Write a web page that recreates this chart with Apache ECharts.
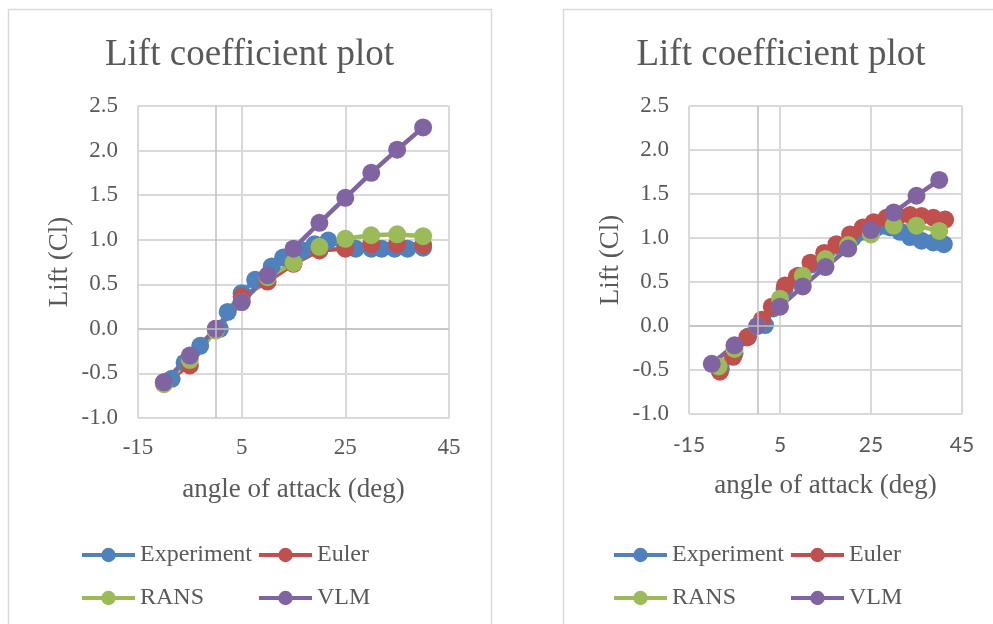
<!DOCTYPE html>
<html>
<head>
<meta charset="utf-8">
<title>Lift coefficient plot</title>
<script src="https://cdn.jsdelivr.net/npm/echarts@6/dist/echarts.min.js"></script>
<style>
  html, body { margin: 0; padding: 0; background: #fff; }
  #main { width: 993px; height: 624px; }
</style>
</head>
<body>
<div id="main"></div>
<script>
// 左图数据 (图A)
const aoaA = [-10, -5, 0, 5, 10, 15, 20, 25, 30, 35, 40];
const eulerA = [-0.60, -0.41, 0.00, 0.36, 0.53, 0.73, 0.88, 0.90, 0.95, 0.95, 0.94];
const ransA = [-0.62, -0.35, -0.02, 0.30, 0.58, 0.74, 0.92, 1.01, 1.05, 1.06, 1.04];
const vlmA = [-0.60, -0.30, 0.00, 0.30, 0.60, 0.90, 1.19, 1.47, 1.75, 2.01, 2.26];
const expAx = [-8.5, -6, -3, 0.8, 2.3, 5, 7.6, 10.8, 13, 16.8, 19.1, 21.7, 25, 27, 30, 32, 34.5, 37, 40];
const expAy = [-0.56, -0.38, -0.19, 0.00, 0.19, 0.40, 0.55, 0.70, 0.80, 0.88, 0.95, 0.99, 0.91, 0.90, 0.90, 0.90, 0.90, 0.90, 0.91];

// 右图数据 (图B)
const vlmBx = [-10, -5, 0, 5, 10, 15, 20, 25, 30, 35, 40];
const vlmBy = [-0.43, -0.22, 0.00, 0.22, 0.45, 0.67, 0.88, 1.09, 1.29, 1.48, 1.66];
const ransBx = [-8.5, -5, 0, 5, 10, 15, 20, 25, 30, 35, 40];
const ransBy = [-0.46, -0.26, 0.00, 0.31, 0.57, 0.76, 0.92, 1.04, 1.14, 1.14, 1.08];
const eulerBx = [-8.2, -5.3, -2.2, 1.0, 3.2, 6.1, 8.7, 11.7, 14.7, 17.4, 20.4, 23.2, 25.6, 28.4, 31, 33.6, 36.1, 38.7, 41.3];
const eulerBy = [-0.52, -0.35, -0.13, 0.07, 0.22, 0.46, 0.56, 0.72, 0.83, 0.93, 1.04, 1.12, 1.18, 1.23, 1.25, 1.26, 1.25, 1.23, 1.21];
const expBx = [-8, -5, -2, 1.7, 3.5, 6, 9, 12, 15, 18, 21, 24, 26, 28, 29.3, 31.4, 33.6, 36.1, 38.7, 41];
const expBy = [-0.49, -0.31, -0.12, 0.01, 0.20, 0.42, 0.57, 0.70, 0.82, 0.91, 1.00, 1.07, 1.11, 1.14, 1.12, 1.07, 1.01, 0.97, 0.95, 0.93];

// 坐标轴刻度
const xMin = -15, xMax = 45, xStep = 20;
const yMin = -1.0, yMax = 2.5, yStep = 0.5;
const names = ['Experiment', 'Euler', 'RANS', 'VLM'];
const colors = ['#4f81bd', '#c0504d', '#9bbb59', '#8064a2'];

const serif = "'Liberation Serif', 'Times New Roman', serif";
const grey = '#595959';

function zip(xs, ys) {
  return xs.map((x, i) => [x, ys[i]]);
}

function lineSeries(name, idx, data) {
  const c = colors[names.indexOf(name)];
  return {
    name: name,
    type: 'line',
    xAxisIndex: idx,
    yAxisIndex: idx,
    data: data,
    symbol: 'circle',
    symbolSize: 18,
    lineStyle: { color: c, width: 4.5 },
    itemStyle: { color: c },
    z: 3
  };
}

// 零线(Excel的坐标轴位置)
function zeroLines(idx) {
  return {
    type: 'line',
    xAxisIndex: idx,
    yAxisIndex: idx,
    data: [],
    z: 1,
    markLine: {
      silent: true,
      symbol: 'none',
      label: { show: false },
      lineStyle: { color: '#bfbfbf', width: 1.5, type: 'solid' },
      data: [{ xAxis: 0 }, { yAxis: 0 }]
    }
  };
}

function xAxisOf(idx, labelFont, labelSize, margin) {
  return {
    type: 'value',
    gridIndex: idx,
    min: xMin, max: xMax, interval: xStep,
    name: 'angle of attack (deg)',
    nameLocation: 'middle',
    nameGap: 58,
    nameTextStyle: { fontFamily: serif, fontSize: 27, color: grey },
    axisLine: { show: false, onZero: false },
    axisTick: { show: false },
    axisLabel: { fontFamily: labelFont, fontSize: labelSize, color: grey, margin: margin },
    splitLine: { show: true, lineStyle: { color: '#d9d9d9', width: 2 } }
  };
}

function yAxisOf(idx) {
  return {
    type: 'value',
    gridIndex: idx,
    min: yMin, max: yMax, interval: yStep,
    name: 'Lift (Cl)',
    nameLocation: 'middle',
    nameGap: 65,
    nameRotate: 90,
    nameTextStyle: { fontFamily: serif, fontSize: 27, color: grey },
    axisLine: { show: false, onZero: false },
    axisTick: { show: false },
    axisLabel: {
      fontFamily: serif, fontSize: 23, color: grey, margin: 20,
      formatter: v => v.toFixed(1)
    },
    splitLine: { show: true, lineStyle: { color: '#d9d9d9', width: 2 } }
  };
}

function legendAt(name, left, top) {
  return {
    data: [name],
    left: left,
    top: top,
    padding: 0,
    itemWidth: 53,
    itemHeight: 18,
    itemGap: 0,
    selectedMode: false,
    lineStyle: { width: 4 },
    textStyle: { fontFamily: serif, fontSize: 24, color: grey, padding: [0, 0, 0, 0] }
  };
}

const option = {
  animation: false,
  backgroundColor: '#fff',
  graphic: [
    { type: 'rect', shape: { x: 8.5, y: 9.5, width: 483, height: 700 }, style: { fill: 'none', stroke: '#d9d9d9', lineWidth: 1.5 } },
    { type: 'rect', shape: { x: 563.5, y: 9.5, width: 500, height: 700 }, style: { fill: 'none', stroke: '#d9d9d9', lineWidth: 1.5 } }
  ],
  title: [
    { text: 'Lift coefficient plot', left: 249.5, textAlign: 'center', top: 37, padding: 0,
      textStyle: { fontFamily: serif, fontSize: 37, fontWeight: 'normal', color: grey } },
    { text: 'Lift coefficient plot', left: 781, textAlign: 'center', top: 37, padding: 0,
      textStyle: { fontFamily: serif, fontSize: 37, fontWeight: 'normal', color: grey } }
  ],
  legend: [
    legendAt('Experiment', 80, 543), legendAt('Euler', 257, 543),
    legendAt('RANS', 80, 586), legendAt('VLM', 257, 586),
    legendAt('Experiment', 612, 543), legendAt('Euler', 789, 543),
    legendAt('RANS', 612, 586), legendAt('VLM', 789, 586)
  ],
  grid: [
    { left: 138, top: 106, width: 311, height: 312 },
    { left: 689, top: 106, width: 273, height: 308 }
  ],
  xAxis: [
    xAxisOf(0, serif, 23, 18),
    xAxisOf(1, "Lato, 'Open Sans', sans-serif", 21, 21)
  ],
  yAxis: [yAxisOf(0), yAxisOf(1)],
  series: [
    zeroLines(0),
    lineSeries('Experiment', 0, zip(expAx, expAy)),
    lineSeries('Euler', 0, zip(aoaA, eulerA)),
    lineSeries('RANS', 0, zip(aoaA, ransA)),
    lineSeries('VLM', 0, zip(aoaA, vlmA)),
    zeroLines(1),
    lineSeries('Experiment', 1, zip(expBx, expBy)),
    lineSeries('Euler', 1, zip(eulerBx, eulerBy)),
    lineSeries('RANS', 1, zip(ransBx, ransBy)),
    lineSeries('VLM', 1, zip(vlmBx, vlmBy))
  ]
};

const myChart = echarts.init(document.getElementById('main'));
myChart.setOption(option);
window.addEventListener('resize', function () {
  myChart.resize();
});
</script>
</body>
</html>
